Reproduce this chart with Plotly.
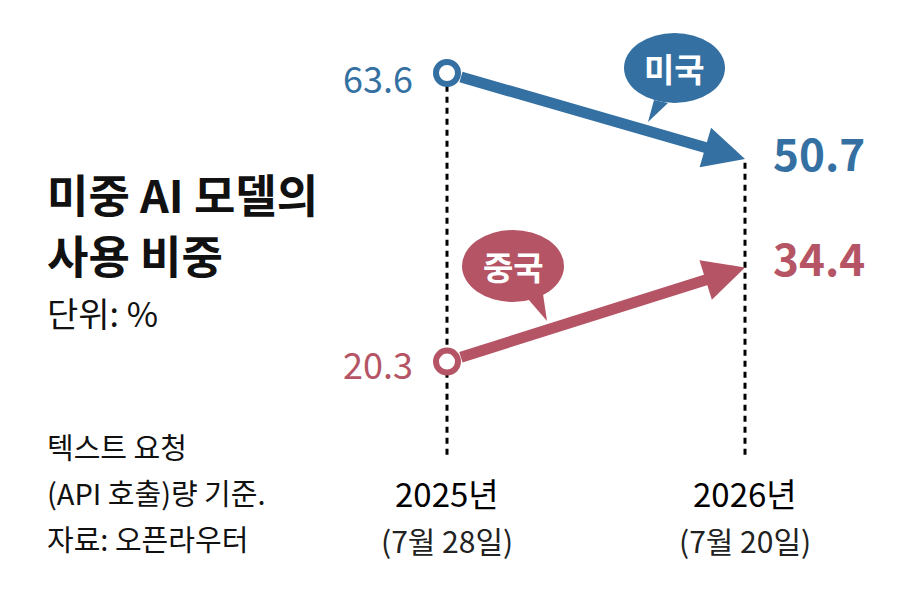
import plotly.graph_objects as go

# data
periods = ["2025년", "2026년"]
dates = ["(7월 28일)", "(7월 20일)"]
countries = ["미국", "중국"]
usa = [63.6, 50.7]
china = [20.3, 34.4]

W, H = 908, 590
FONT = "Noto Sans CJK KR"
BLUE = "#3470A2"
RED = "#B55465"


def px(x):
    return x / W


def py(y):
    return 1 - y / H


fig = go.Figure()

series = [(usa, BLUE), (china, RED)]

# start circles
for vals, col in series:
    fig.add_trace(go.Scatter(
        x=[0], y=[vals[0]], mode="markers",
        marker=dict(size=22, color="white", line=dict(color=col, width=6)),
        hoverinfo="skip"))

# dashed guides from the top value of each period down to the labels
guide_bottom = 6.3
for i in range(len(periods)):
    top = max(usa[i], china[i])
    fig.add_shape(type="line", xref="x", yref="y", x0=i, x1=i,
                  y0=guide_bottom, y1=top, layer="below",
                  line=dict(color="black", width=3, dash="6px,5px"))

# arrows
for vals, col in series:
    fig.add_annotation(x=1, y=vals[1], ax=0, ay=vals[0],
                       xref="x", yref="y", axref="x", ayref="y",
                       text="", showarrow=True, arrowhead=2,
                       arrowwidth=11, arrowsize=0.75, arrowcolor=col,
                       startstandoff=13, standoff=0)

# value labels
shifts = {BLUE: (-4, 7), RED: (-1, 11)}
for vals, col in series:
    s0, s1 = shifts[col]
    fig.add_annotation(x=0, y=vals[0], xref="x", yref="y", text=f"{vals[0]}",
                       showarrow=False, xanchor="right", yanchor="middle",
                       xshift=-32, yshift=s0,
                       font=dict(family=FONT, size=36, color=col))
    fig.add_annotation(x=1, y=vals[1], xref="x", yref="y", text=f"{vals[1]}",
                       showarrow=False, xanchor="left", yanchor="middle",
                       xshift=26, yshift=s1,
                       font=dict(family=FONT, size=44, color=col, weight=700))

# speech bubbles
bubbles = [
    (countries[0], BLUE, (624, 33, 725, 103), [(654, 100), (648, 122), (668, 103)]),
    (countries[1], RED, (462, 230, 564, 302), [(528, 299), (547, 321), (543, 294)]),
]
for label, col, (x0, y0, x1, y1), tail in bubbles:
    fig.add_shape(type="circle", xref="paper", yref="paper",
                  x0=px(x0), x1=px(x1), y0=py(y1), y1=py(y0),
                  fillcolor=col, line=dict(width=0))
    path = "M " + " L ".join(f"{px(a)},{py(b)}" for a, b in tail) + " Z"
    fig.add_shape(type="path", xref="paper", yref="paper", path=path,
                  fillcolor=col, line=dict(width=0))
    fig.add_annotation(x=px((x0 + x1) / 2), y=py((y0 + y1) / 2),
                       xref="paper", yref="paper", text=label, showarrow=False,
                       xanchor="center", yanchor="middle",
                       font=dict(family=FONT, size=33, color="white", weight=700))

# period labels
for i, (p, d) in enumerate(zip(periods, dates)):
    fig.add_annotation(x=i, y=py(493), xref="x", yref="paper", text=p,
                       showarrow=False, xanchor="center", yanchor="middle",
                       font=dict(family=FONT, size=33, color="black"))
    fig.add_annotation(x=i, y=py(540), xref="x", yref="paper", text=d,
                       showarrow=False, xanchor="center", yanchor="middle",
                       font=dict(family=FONT, size=30, color="#222"))

# left texts
left_texts = [
    ("미중 AI 모델의", 194, 45, 700),
    ("사용 비중", 255, 45, 700),
    ("단위: %", 312, 34, 400),
    ("텍스트 요청", 446, 29, 400),
    ("(API 호출)량 기준.", 492, 29, 400),
    ("자료: 오픈라우터", 538, 29, 400),
]
for txt, yy, size, wt in left_texts:
    fig.add_annotation(x=px(45), y=py(yy), xref="paper", yref="paper", text=txt,
                       showarrow=False, xanchor="left", yanchor="middle",
                       font=dict(family=FONT, size=size, color="#111", weight=wt))

fig.update_layout(
    width=W, height=H,
    margin=dict(l=0, r=0, t=0, b=0),
    paper_bgcolor="white", plot_bgcolor="white",
    showlegend=False,
    xaxis=dict(range=[-1.5, 1.547], visible=False, fixedrange=True),
    yaxis=dict(range=[-13.98, 74.55], visible=False, fixedrange=True),
)

# the page body has a default 8px margin; drop it so the chart fills the window
fig.write_html("out.html", config={"displayModeBar": False},
               post_script="document.body.style.margin='0';")
